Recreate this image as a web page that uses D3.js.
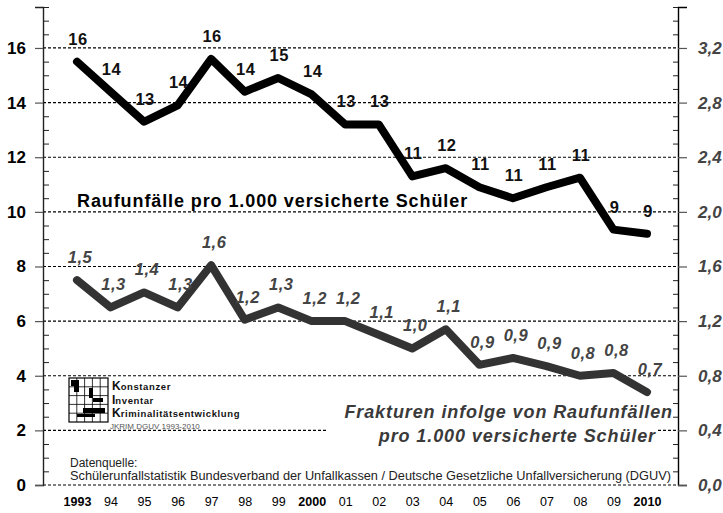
<!DOCTYPE html>
<html>
<head>
<meta charset="utf-8">
<script src="https://cdn.jsdelivr.net/npm/d3@7"></script>
<style>
  body { margin: 0; background: #fff; }
  svg { display: block; font-family: 'Liberation Sans', Arial, sans-serif; }
</style>
</head>
<body>
<div class="chart"></div>
<script>
const years = [1993, 1994, 1995, 1996, 1997, 1998, 1999, 2000, 2001, 2002, 2003, 2004, 2005, 2006, 2007, 2008, 2009, 2010];
const yearLabels = ['1993', '94', '95', '96', '97', '98', '99', '2000', '01', '02', '03', '04', '05', '06', '07', '08', '09', '2010'];
const boldYears = ['1993', '2000', '2010'];

// Raufunfälle pro 1.000 versicherte Schüler (linke Achse)
const raufunfaelle = [15.5, 14.4, 13.3, 13.9, 15.6, 14.4, 14.9, 14.3, 13.2, 13.2, 11.3, 11.6, 10.9, 10.5, 10.9, 11.25, 9.35, 9.2];
const raufLabels = ['16', '14', '13', '14', '16', '14', '15', '14', '13', '13', '11', '12', '11', '11', '11', '11', '9', '9'];

// Frakturen pro 1.000 versicherte Schüler (rechte Achse)
const frakturen = [1.5, 1.3, 1.41, 1.3, 1.61, 1.21, 1.3, 1.2, 1.2, 1.1, 1.0, 1.14, 0.88, 0.93, 0.87, 0.80, 0.82, 0.68];
const frakLabels = ['1,5', '1,3', '1,4', '1,3', '1,6', '1,2', '1,3', '1,2', '1,2', '1,1', '1,0', '1,1', '0,9', '0,9', '0,9', '0,8', '0,8', '0,7'];

const leftTicks = [0, 2, 4, 6, 8, 10, 12, 14, 16];
const rightTicks = [0, 0.4, 0.8, 1.2, 1.6, 2.0, 2.4, 2.8, 3.2];

const W = 723, H = 513;
const axisL = 43, axisR = 678;

const svg = d3.select('.chart').append('svg')
    .attr('width', W)
    .attr('height', H);

const x = d3.scalePoint().domain(years).range([77, 647]);
const yL = d3.scaleLinear().domain([0, 17.5]).range([485, 7]);
const yR = d3.scaleLinear().domain([0, 3.5]).range([485, 7]);

// gridlines (dashed, incl. baseline)
svg.append('g').selectAll('line')
    .data(leftTicks)
    .enter().append('line')
    .attr('x1', axisL).attr('x2', axisR)
    .attr('y1', d => yL(d)).attr('y2', d => yL(d))
    .attr('stroke', '#000')
    .attr('stroke-width', 1.2)
    .attr('stroke-dasharray', '3,2');

// minor ticks
const minor = d3.range(0, 17.51, 0.5).filter(v => v % 2 !== 0);

svg.append('g')
    .attr('transform', 'translate(' + axisL + ',0)')
    .call(d3.axisLeft(yL).tickValues(leftTicks).tickSize(8).tickPadding(9))
    .call(g => g.select('.domain').attr('stroke', '#222').attr('stroke-width', 1.4))
    .call(g => g.selectAll('.tick line').attr('stroke', '#555').attr('stroke-width', 1.2))
    .call(g => g.selectAll('text')
        .style('font-size', '17px').style('font-weight', 'bold').attr('fill', '#000'));

svg.append('g')
    .attr('transform', 'translate(' + axisL + ',0)')
    .call(d3.axisRight(yL).tickValues(minor).tickSize(6).tickFormat(''))
    .call(g => g.select('.domain').remove())
    .call(g => g.selectAll('.tick line').attr('stroke', '#222'));

svg.append('g')
    .attr('transform', 'translate(' + axisR + ',0)')
    .call(d3.axisRight(yR).tickValues(rightTicks).tickSize(9).tickPadding(11)
        .tickFormat(d => d3.format('.1f')(d).replace('.', ',')))
    .call(g => g.select('.domain').attr('stroke', '#000').attr('stroke-width', 1.4))
    .call(g => g.selectAll('.tick line').attr('stroke', '#555').attr('stroke-width', 1.2))
    .call(g => g.selectAll('text')
        .style('font-size', '17px').style('font-weight', 'bold').style('font-style', 'italic')
        .attr('fill', '#444'));

svg.append('g')
    .attr('transform', 'translate(' + axisR + ',0)')
    .call(d3.axisLeft(yR).tickValues(minor.map(v => v / 5)).tickSize(5).tickFormat(''))
    .call(g => g.select('.domain').remove())
    .call(g => g.selectAll('.tick line').attr('stroke', '#222'));

// x axis labels
svg.append('g')
    .attr('transform', 'translate(0,485)')
    .call(d3.axisBottom(x).tickSize(0).tickPadding(12).tickFormat((d, i) => yearLabels[i]))
    .call(g => g.select('.domain').remove())
    .call(g => g.selectAll('text')
        .style('font-size', '12.5px')
        .style('font-weight', (d, i) => boldYears.includes(yearLabels[i]) ? 'bold' : 'normal')
        .attr('fill', '#000'));

// white box behind the Frakturen caption
svg.append('rect')
    .attr('x', 326).attr('y', 398)
    .attr('width', 330).attr('height', 46)
    .attr('fill', '#fff');

// lines
const lineL = d3.line().x((d, i) => x(years[i])).y(d => yL(d));
const lineR = d3.line().x((d, i) => x(years[i])).y(d => yR(d));

svg.append('path')
    .datum(frakturen)
    .attr('d', lineR)
    .attr('fill', 'none')
    .attr('stroke', '#333')
    .attr('stroke-width', 8)
    .attr('stroke-linejoin', 'round')
    .attr('stroke-linecap', 'round');

svg.append('path')
    .datum(raufunfaelle)
    .attr('d', lineL)
    .attr('fill', 'none')
    .attr('stroke', '#000')
    .attr('stroke-width', 8)
    .attr('stroke-linejoin', 'round')
    .attr('stroke-linecap', 'round');

// data labels
svg.append('g').selectAll('text')
    .data(raufunfaelle)
    .enter().append('text')
    .attr('x', (d, i) => x(years[i]) + 1)
    .attr('y', d => yL(d) - 17)
    .attr('text-anchor', 'middle')
    .style('font-size', '16.5px')
    .style('font-weight', 'bold')
    .style('letter-spacing', '0.5px')
    .attr('fill', '#111')
    .text((d, i) => raufLabels[i]);

svg.append('g').selectAll('text')
    .data(frakturen)
    .enter().append('text')
    .attr('x', (d, i) => x(years[i]) + 3)
    .attr('y', d => yR(d) - 17)
    .attr('text-anchor', 'middle')
    .style('font-size', '16.5px')
    .style('font-weight', 'bold')
    .style('font-style', 'italic')
    .style('letter-spacing', '0.5px')
    .attr('fill', '#444')
    .text((d, i) => frakLabels[i]);

// captions
svg.append('text')
    .attr('x', 77).attr('y', 207)
    .style('font-size', '18px').style('font-weight', 'bold').style('letter-spacing', '0.9px')
    .attr('fill', '#000')
    .text('Raufunfälle pro 1.000 versicherte Schüler');

svg.append('text')
    .attr('x', 673).attr('y', 418)
    .attr('text-anchor', 'end')
    .style('font-size', '18px').style('font-weight', 'bold').style('font-style', 'italic')
    .style('letter-spacing', '0.9px')
    .attr('fill', '#3a3a3a')
    .text('Frakturen infolge von Raufunfällen');

svg.append('text')
    .attr('x', 656).attr('y', 442)
    .attr('text-anchor', 'end')
    .style('font-size', '18px').style('font-weight', 'bold').style('font-style', 'italic')
    .style('letter-spacing', '0.9px')
    .attr('fill', '#3a3a3a')
    .text('pro 1.000 versicherte Schüler');

// source
svg.append('text')
    .attr('x', 70).attr('y', 467)
    .style('font-size', '12px')
    .attr('fill', '#222')
    .text('Datenquelle:');

svg.append('text')
    .attr('x', 70).attr('y', 480)
    .style('font-size', '12px')
    .attr('fill', '#222')
    .attr('textLength', 601)
    .attr('lengthAdjust', 'spacingAndGlyphs')
    .text('Schülerunfallstatistik Bundesverband der Unfallkassen / Deutsche Gesetzliche Unfallversicherung (DGUV)');

// KIK logo
const logo = svg.append('g').attr('transform', 'translate(69,378)');
logo.append('rect')
    .attr('width', 39).attr('height', 44)
    .attr('fill', '#fff').attr('stroke', '#000').attr('stroke-width', 1.2);
d3.range(1, 5).forEach(function (i) {
    logo.append('line').attr('x1', i * 7.8).attr('x2', i * 7.8).attr('y1', 0).attr('y2', 44)
        .attr('stroke', '#000').attr('stroke-width', 0.8);
    logo.append('line').attr('x1', 0).attr('x2', 39).attr('y1', i * 8.8).attr('y2', i * 8.8)
        .attr('stroke', '#000').attr('stroke-width', 0.8);
});
[[2, 2, 8, 6], [5, 6, 5, 8], [20, 10, 4, 10], [24, 20, 10, 4], [14, 30, 22, 5], [8, 36, 18, 3]].forEach(function (r) {
    logo.append('rect').attr('x', r[0]).attr('y', r[1]).attr('width', r[2]).attr('height', r[3])
        .attr('fill', '#000');
});

const logoText = [['K', 'onstanzer', 390], ['I', 'nventar', 404], ['K', 'riminalitätsentwicklung', 417]];
logoText.forEach(function (t) {
    const tx = svg.append('text').attr('x', 112).attr('y', t[2]).attr('fill', '#111')
        .style('font-weight', 'bold');
    tx.append('tspan').style('font-size', '12px').text(t[0]);
    tx.append('tspan').style('font-size', '9.5px').style('letter-spacing', '0.6px').text(t[1]);
});

svg.append('text')
    .attr('x', 110).attr('y', 429)
    .style('font-size', '8px')
    .attr('fill', '#555')
    .text('JKRIM DGUV 1993-2010');
</script>
</body>
</html>
